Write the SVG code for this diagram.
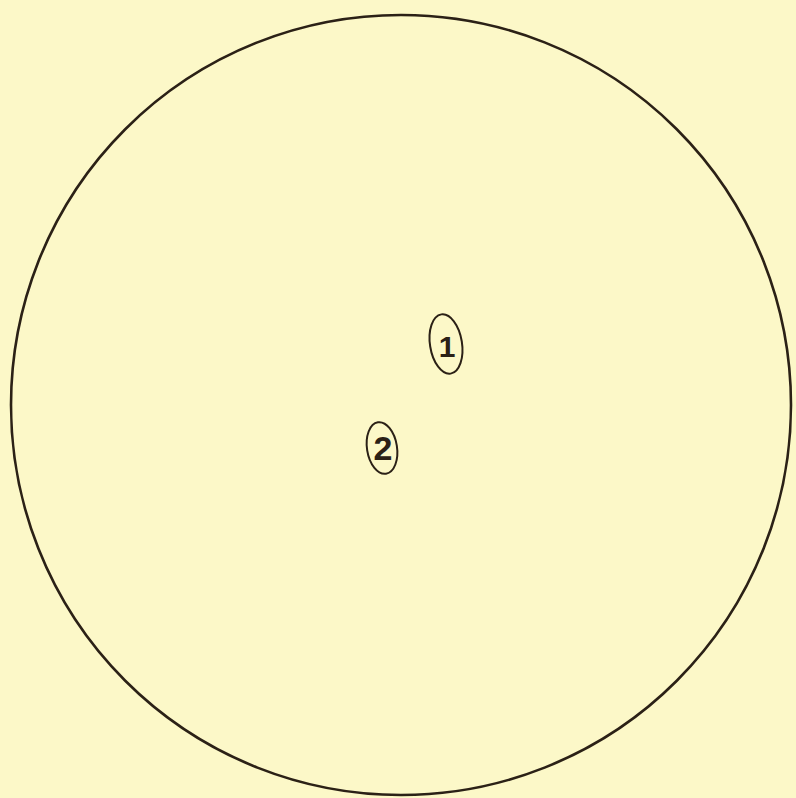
<svg xmlns="http://www.w3.org/2000/svg" width="796" height="798" viewBox="0 0 796 798">
<style>
.ln{fill:none;stroke:#2b2116;}
.lbl{font-family:"Liberation Sans",Arial,sans-serif;font-weight:bold;fill:#2b2116;text-anchor:middle;}
</style>
<rect x="0" y="0" width="796" height="798" fill="#FCF8C8"/>
<circle class="ln" cx="401" cy="405" r="390" stroke-width="2.6"/>
<g id="node1">
<ellipse class="ln" cx="446" cy="344" rx="16" ry="30" transform="rotate(-9 446 344)" stroke-width="2"/>
<text class="lbl" x="447" y="357" font-size="30">1</text>
</g>
<g id="node2">
<ellipse class="ln" cx="382" cy="448" rx="15" ry="26" transform="rotate(-9 382 448)" stroke-width="2"/>
<text class="lbl" x="383" y="460" font-size="34">2</text>
</g>
<g id="connectors"/>
</svg>
